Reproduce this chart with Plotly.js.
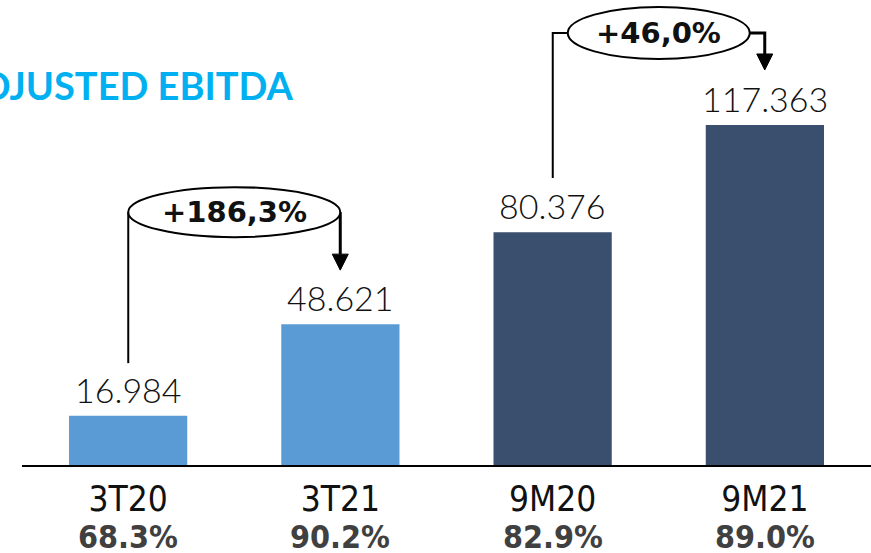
<!DOCTYPE html>
<html>
<head>
<meta charset="utf-8">
<script src="https://cdn.plot.ly/plotly-3.0.1.min.js"></script>
<style>html,body{margin:0;padding:0;background:#fff}#chart{width:871px;height:553px}</style>
</head>
<body>
<div id="chart"></div>
<script>
// ---- data ----
const categories = ['3T20', '3T21', '9M20', '9M21'];
const ebitda = [16.984, 48.621, 80.376, 117.363];       // thousands
const ebitdaMargin = ['68.3%', '90.2%', '82.9%', '89.0%'];
const growthLabels = ['+186,3%', '+46,0%'];
const growthPairs = [[0, 1], [2, 3]];

// ---- style ----
const barColors = ['#5B9BD5', '#5B9BD5', '#3A4E6D', '#3A4E6D'];
const xIdx = categories.map((c, i) => i);
const narrowFont = '"Liberation Sans Narrow", "DejaVu Sans Condensed", "DejaVu Sans", sans-serif';

// bracket geometry in pixels relative to (midpoint of pair, taller bar top)
const bracketStyle = [
  {up: 112, rx: 106, ry: 25, left: -106, right: 106, leftBottom: -39, tipUp: 54, headUp: 70, elbow: false},
  {up: 92,  rx: 91,  ry: 26, left: -106, right: 106, leftBottom: -53, tipUp: 55, headUp: 71, elbow: true}
];

const shapes = [];
const annotations = [];

// value labels
ebitda.forEach((v, i) => {
  annotations.push({
    x: i, y: v, xref: 'x', yref: 'y', text: v.toFixed(3),
    showarrow: false, xanchor: 'center', yanchor: 'bottom', yshift: 4,
    font: {family: 'Lato, "Open Sans", sans-serif', size: 34, color: '#111111', weight: 300}
  });
});

// margin labels
ebitdaMargin.forEach((m, i) => {
  annotations.push({
    x: i, y: 0, xref: 'x', yref: 'paper', text: '<b>' + m + '</b>',
    showarrow: false, xanchor: 'center', yanchor: 'top', yshift: -51,
    font: {family: narrowFont, size: 32, color: '#404040'}
  });
});

growthPairs.forEach((p, k) => {
  const s = bracketStyle[k];
  const mid = (p[0] + p[1]) / 2;
  const top = Math.max(ebitda[p[0]], ebitda[p[1]]);
  const base = {xref: 'x', yref: 'y', xsizemode: 'pixel', ysizemode: 'pixel', xanchor: mid, yanchor: top, layer: 'above'};
  // left connector
  let lp = `M ${s.left},${s.leftBottom} L ${s.left},${s.up}`;
  if (s.elbow) lp += ` L ${-s.rx},${s.up}`;
  shapes.push(Object.assign({}, base, {type: 'path', path: lp, line: {color: '#000', width: 2}}));
  // right connector
  let rp = s.elbow ? `M ${s.rx},${s.up} L ${s.right},${s.up} L ${s.right},${s.headUp}` : `M ${s.right},${s.up} L ${s.right},${s.headUp}`;
  shapes.push(Object.assign({}, base, {type: 'path', path: rp, line: {color: '#000', width: 3}}));
  // arrow head
  shapes.push(Object.assign({}, base, {type: 'path',
    path: `M ${s.right - 8},${s.headUp} L ${s.right + 8},${s.headUp} L ${s.right},${s.tipUp} Z`,
    fillcolor: '#000', line: {color: '#000', width: 1}}));
  // ellipse
  shapes.push(Object.assign({}, base, {type: 'circle',
    x0: -s.rx, x1: s.rx, y0: s.up - s.ry, y1: s.up + s.ry,
    fillcolor: '#fff', line: {color: '#000', width: 2}}));
  annotations.push({
    x: mid, y: top, xref: 'x', yref: 'y', yshift: s.up, text: '<b>' + growthLabels[k] + '</b>',
    showarrow: false, xanchor: 'center', yanchor: 'middle',
    font: {family: '"DejaVu Sans", sans-serif', size: 29, color: '#111111'}
  });
});

const trace = {
  type: 'bar', x: xIdx, y: ebitda, marker: {color: barColors, line: {width: 0}},
  hoverinfo: 'skip', cliponaxis: false
};

const layout = {
  width: 871, height: 553,
  margin: {l: 22, r: 0, t: 0, b: 88},
  paper_bgcolor: '#fff', plot_bgcolor: '#fff',
  showlegend: false, bargap: 0.443,
  title: {
    text: '<b>ADJUSTED EBITDA</b>', xref: 'container', yref: 'container',
    x: 293 / 871, xanchor: 'right', y: 1 - 87 / 553, yanchor: 'middle',
    font: {family: 'Lato, sans-serif', size: 38, color: '#00B0F0'}
  },
  xaxis: {
    range: [-0.5, 3.5], tickmode: 'array', tickvals: xIdx, ticktext: categories,
    showgrid: false, zeroline: false, showline: true, linecolor: '#000', linewidth: 2,
    ticks: '', ticklabelstandoff: 2,
    tickfont: {family: narrowFont, size: 35, color: '#111111'}
  },
  yaxis: {range: [0, 160.5], visible: false, showgrid: false, zeroline: false},
  shapes: shapes, annotations: annotations
};

Plotly.newPlot('chart', [trace], layout, {displayModeBar: false, staticPlot: true});
</script>
</body>
</html>
